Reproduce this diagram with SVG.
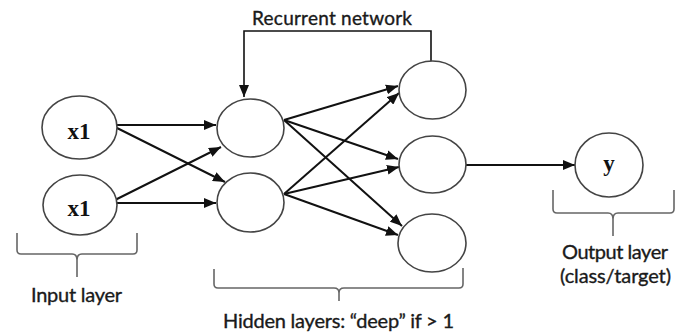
<svg xmlns="http://www.w3.org/2000/svg" width="686" height="335" viewBox="0 0 686 335">
<defs>
<marker id="ah" viewBox="0 0 12 10" refX="12" refY="5" markerWidth="12" markerHeight="10" markerUnits="userSpaceOnUse" orient="auto">
<path d="M0,0 L12,5 L0,10 Z" fill="#111"/>
</marker>
</defs>
<style>
.node ellipse{fill:#fff;stroke:#444;stroke-width:1.6}
.conn line,.conn path.a{stroke:#111;stroke-width:2;fill:none;marker-end:url(#ah)}
.brace{stroke:#666;stroke-width:1.6;fill:none}
.lbl{font-family:Lato,"Liberation Sans",Arial,sans-serif;font-size:20px;fill:#1a1a1a;stroke:#1a1a1a;stroke-width:0.35;text-anchor:start}
.var{font-family:"Liberation Serif","Times New Roman",serif;font-weight:bold;font-size:23px;fill:#111;text-anchor:middle}
</style>
<rect width="686" height="335" fill="#fff"/>
<g class="conn" id="connectors">
<line x1="115" y1="125" x2="216" y2="125"/>
<line x1="115" y1="127" x2="225" y2="182"/>
<line x1="115" y1="200" x2="221" y2="147"/>
<line x1="115" y1="203" x2="216" y2="203"/>
<line x1="284" y1="120" x2="398" y2="86"/>
<line x1="284" y1="120" x2="398" y2="159"/>
<line x1="284" y1="120" x2="402" y2="226"/>
<line x1="284" y1="194" x2="399" y2="93"/>
<line x1="284" y1="194" x2="399" y2="167"/>
<line x1="284" y1="194" x2="398" y2="235"/>
<line x1="466" y1="165" x2="575" y2="165"/>
<path class="a" d="M431,61 V31 H244 V97" style="stroke-width:1.6"/>
</g>
<g id="input1" class="node"><ellipse cx="79.5" cy="127.5" rx="37.5" ry="31.5"/><text class="var" x="79" y="139">x1</text></g>
<g id="input2" class="node"><ellipse cx="80" cy="205" rx="37" ry="30"/><text class="var" x="79" y="216">x1</text></g>
<g id="h1a" class="node"><ellipse cx="250.5" cy="128" rx="33.5" ry="29"/></g>
<g id="h1b" class="node"><ellipse cx="250.5" cy="202.5" rx="33.5" ry="29.5"/></g>
<g id="h2a" class="node"><ellipse cx="432.5" cy="90" rx="33.5" ry="29"/></g>
<g id="h2b" class="node"><ellipse cx="432.5" cy="164.5" rx="33.5" ry="28.5"/></g>
<g id="h2c" class="node"><ellipse cx="432" cy="243" rx="34" ry="29"/></g>
<g id="output" class="node"><ellipse cx="609" cy="165" rx="34" ry="32"/><text class="var" x="609" y="171">y</text></g>
<g id="braces">
<path class="brace" d="M17,233 V250 Q17,254 21,254 H72 Q77,254 77,260 V277 M137,233 V250 Q137,254 133,254 H82 Q77,254 77,260"/>
<path class="brace" d="M214,269 V284 Q214,288 218,288 H334 Q339,288 339,293 V301 M463,268 V284 Q463,288 459,288 H344 Q339,288 339,293"/>
<path class="brace" d="M553,190 V209 Q553,213 557,213 H608 Q613,213 613,219 V236 M674,190 V209 Q674,213 670,213 H618 Q613,213 613,219"/>
</g>
<g id="labels">
<text class="lbl" x="252" y="25" textLength="160" style="font-size:19px">Recurrent network</text>
<text class="lbl" x="31" y="302" textLength="91">Input layer</text>
<text class="lbl" x="223" y="328" textLength="231">Hidden layers: “deep” if &gt; 1</text>
<text class="lbl" x="562" y="259" textLength="106">Output layer</text>
<text class="lbl" x="560" y="283" textLength="111">(class/target)</text>
</g>
</svg>
